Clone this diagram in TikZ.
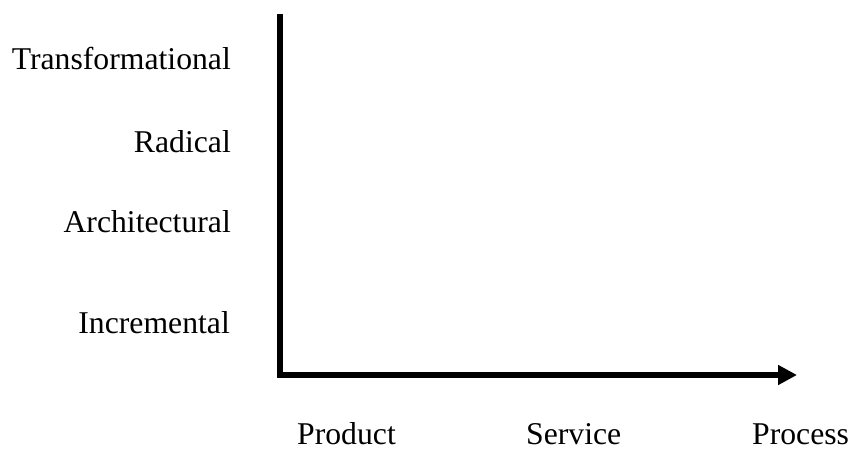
\documentclass[tikz,border=0pt]{standalone}
\usepackage{fontspec}
\setmainfont{Liberation Serif}
\usetikzlibrary{arrows.meta}
\begin{document}
\begin{tikzpicture}[x=1pt,y=1pt,
  axis/.style={line width=6pt, line cap=butt},
  ylab/.style={anchor=base east, inner sep=0pt, font=\fontsize{31.7}{32}\selectfont},
  xlab/.style={anchor=base west, inner sep=0pt, font=\fontsize{31.7}{32}\selectfont}]
\useasboundingbox (0,0) rectangle (849,448);
\coordinate (top) at (280,434);
\coordinate (corner) at (280,70);
\coordinate (hstart) at (277,73);
\coordinate (xend) at (797,73);
\draw[axis] (top) -- (corner);
\draw[axis, -{Triangle[length=19pt,width=19pt]}] (hstart) -- (xend);
\node[ylab] (trans) at (231,378) {Transformational};
\node[ylab] (rad) at (231,295) {Radical};
\node[ylab] (arch) at (231,215) {Architectural};
\node[ylab] (inc) at (230,115) {Incremental};
\node[xlab] (prod) at (297,3.5) {Product};
\node[xlab] (serv) at (526,3.5) {Service};
\node[xlab] (proc) at (752,3.5) {Process};
\end{tikzpicture}
\end{document}
